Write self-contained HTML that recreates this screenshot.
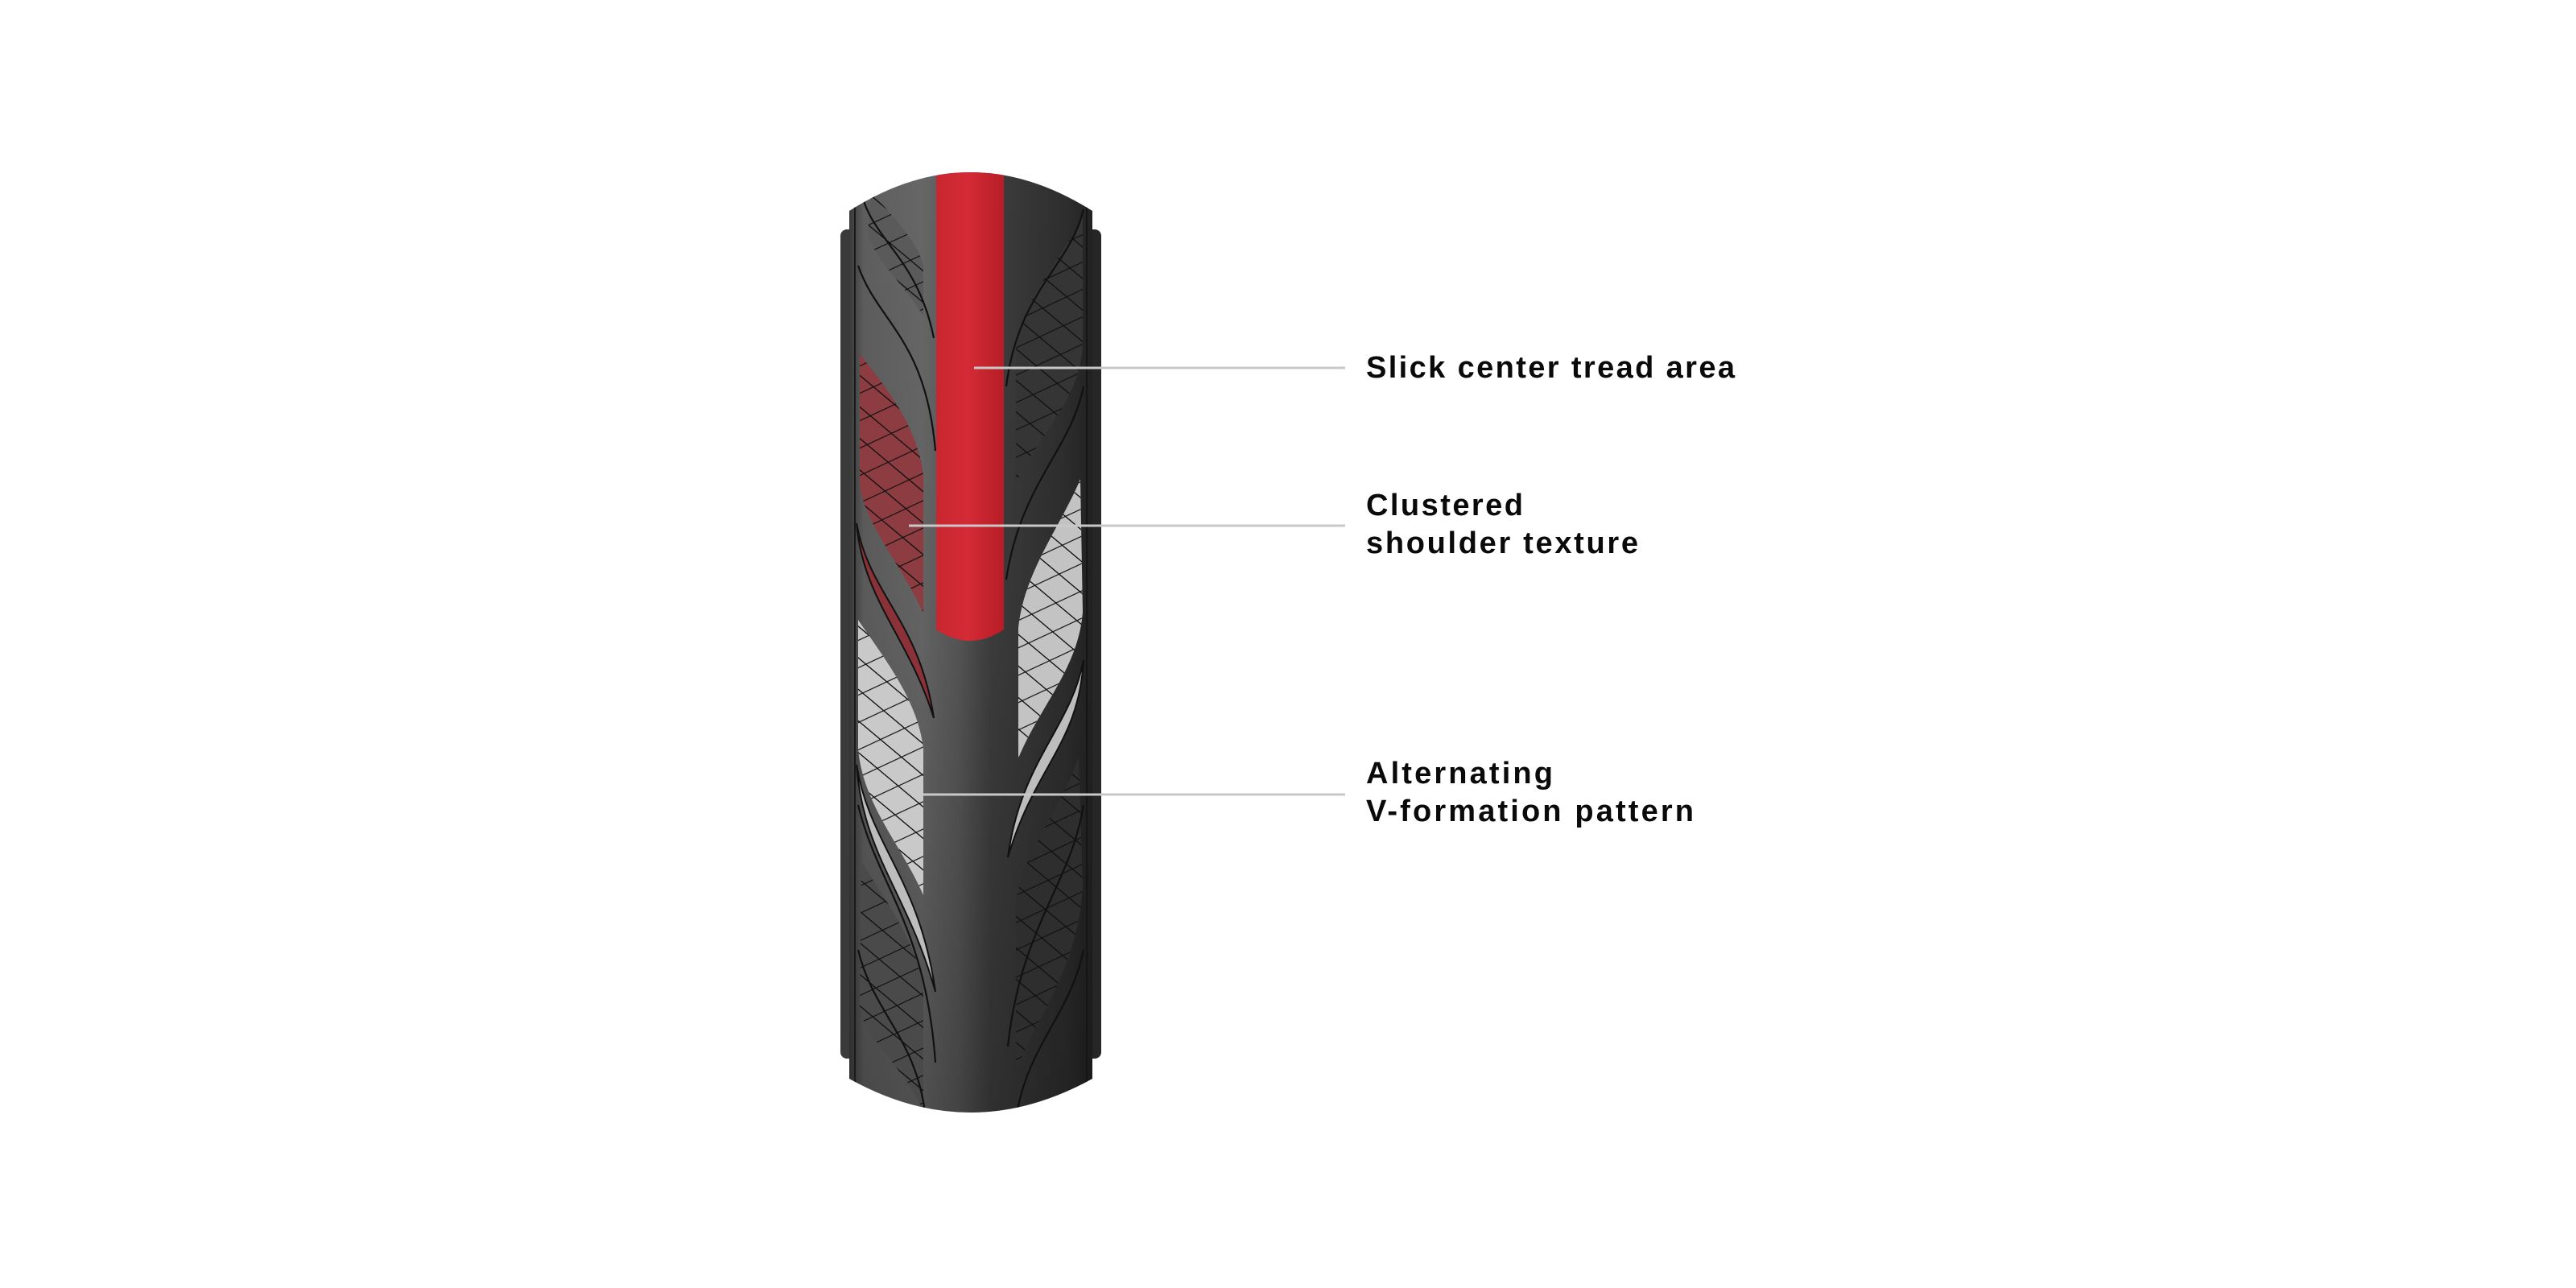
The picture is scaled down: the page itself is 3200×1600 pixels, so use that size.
<!DOCTYPE html>
<html><head><meta charset="utf-8"><style>
html,body{margin:0;padding:0;background:#fff;width:3200px;height:1600px;overflow:hidden}
svg{position:absolute;left:0;top:0}
.t{font-family:"Liberation Sans",sans-serif;font-weight:bold;font-size:38px;fill:#0a0a0a}
</style></head><body>
<svg width="3200" height="1600" viewBox="0 0 3200 1600">
<defs>
<linearGradient id="body" x1="0" x2="1" y1="0" y2="0">
<stop offset="0" stop-color="#3a3a3a"/><stop offset="0.06" stop-color="#5e5e5e"/>
<stop offset="0.3" stop-color="#676767"/><stop offset="0.45" stop-color="#575757"/>
<stop offset="0.58" stop-color="#3e3e3e"/><stop offset="0.9" stop-color="#2d2d2d"/>
<stop offset="1" stop-color="#222"/></linearGradient>
<linearGradient id="shade" x1="0" x2="0" y1="0" y2="1">
<stop offset="0" stop-color="#000" stop-opacity="0"/><stop offset="0.5" stop-color="#000" stop-opacity="0.05"/>
<stop offset="1" stop-color="#000" stop-opacity="0.25"/></linearGradient>
<linearGradient id="red" x1="0" x2="1"><stop offset="0" stop-color="#c92630"/><stop offset="0.45" stop-color="#d42b36"/><stop offset="1" stop-color="#b71d27"/></linearGradient>
<pattern id="grid" width="34" height="30" patternUnits="userSpaceOnUse" patternTransform="rotate(40) skewX(-25)">
<path d="M0,0H34M0,0V30" stroke="#111" stroke-width="2.6" fill="none"/></pattern>
<clipPath id="tc"><path d="M1055,262 Q1205,166 1357,262 L1357,1340 Q1205,1424 1055,1340 Z"/></clipPath>
</defs>
<rect x="1044" y="285" width="20" height="1030" rx="8" fill="#3a3a3a"/>
<rect x="1348" y="285" width="20" height="1030" rx="8" fill="#262626"/>
<path d="M1055,262 Q1205,166 1357,262 L1357,1340 Q1205,1424 1055,1340 Z" fill="url(#body)"/>
<g clip-path="url(#tc)">
<rect x="1040" y="150" width="330" height="1300" fill="url(#shade)"/>
<line x1="1062" y1="250" x2="1062" y2="1350" stroke="#1a1a1a" stroke-width="2"/>
<line x1="1350" y1="250" x2="1350" y2="1350" stroke="#151515" stroke-width="2"/>
<path d="M1082,238 C1110,270 1140,300 1147,330 L1147,392 C1120,350 1085,320 1078,290 Z" fill="#5a5a5a"/>
<path d="M1082,238 C1110,270 1140,300 1147,330 L1147,392 C1120,350 1085,320 1078,290 Z" fill="url(#grid)"/>
<path d="M1068,440 C1100,480 1140,530 1147,590 L1147,762 C1120,700 1072,650 1068,600 Z" fill="#8d3c41"/>
<path d="M1068,440 C1100,480 1140,530 1147,590 L1147,762 C1120,700 1072,650 1068,600 Z" fill="url(#grid)"/>
<path d="M1066,770 C1100,820 1140,870 1147,930 L1147,1112 C1120,1050 1072,1000 1066,930 Z" fill="#c9c9c9"/>
<path d="M1066,770 C1100,820 1140,870 1147,930 L1147,1112 C1120,1050 1072,1000 1066,930 Z" fill="url(#grid)"/>
<path d="M1070,1070 C1100,1120 1140,1170 1147,1230 L1147,1380 C1120,1320 1072,1290 1068,1250 Z" fill="#4a4a4a"/>
<path d="M1070,1070 C1100,1120 1140,1170 1147,1230 L1147,1380 C1120,1320 1072,1290 1068,1250 Z" fill="url(#grid)"/>
<path d="M1345,270 C1320,320 1270,370 1262,430 L1262,600 C1290,540 1340,500 1345,430 Z" fill="#353535"/>
<path d="M1345,270 C1320,320 1270,370 1262,430 L1262,600 C1290,540 1340,500 1345,430 Z" fill="url(#grid)"/>
<path d="M1342,595 C1320,650 1272,710 1265,780 L1265,942 C1290,880 1340,830 1345,760 Z" fill="#c3c3c3"/>
<path d="M1342,595 C1320,650 1272,710 1265,780 L1265,942 C1290,880 1340,830 1345,760 Z" fill="url(#grid)"/>
<path d="M1340,940 C1320,1000 1270,1060 1262,1120 L1262,1330 C1290,1260 1340,1200 1345,1100 Z" fill="#2e2e2e"/>
<path d="M1340,940 C1320,1000 1270,1060 1262,1120 L1262,1330 C1290,1260 1340,1200 1345,1100 Z" fill="url(#grid)"/>
<path d="M1064,650 C1080,740 1142,770 1160,892 C1128,790 1072,745 1064,650 Z" fill="#8a3238" stroke="#111" stroke-width="2"/>
<path d="M1064,950 C1080,1050 1142,1090 1162,1232 C1128,1110 1072,1062 1064,950 Z" fill="#bdbdbd" stroke="#111" stroke-width="2"/>
<path d="M1346,820 C1330,905 1268,945 1252,1065 C1285,952 1340,925 1346,820 Z" fill="#bdbdbd" stroke="#111" stroke-width="2"/>
<g fill="none" stroke="#111" stroke-width="2.2">
<path d="M1066,330 C1090,400 1150,420 1162,560"/>
<path d="M1070,240 C1085,300 1140,320 1160,420"/>
<path d="M1066,1000 C1090,1100 1150,1150 1162,1320"/>
<path d="M1346,260 C1330,330 1265,360 1250,480"/>
<path d="M1346,480 C1330,560 1268,600 1250,720"/>
<path d="M1346,1000 C1330,1100 1268,1150 1252,1300"/>
<path d="M1346,1180 C1330,1260 1275,1300 1262,1390"/>
<path d="M1066,1180 C1085,1260 1140,1290 1150,1390"/>
</g>
<path d="M1163,150 L1247,150 L1247,782 Q1205,810 1163,782 Z" fill="url(#red)"/>
</g>
<g stroke="#c8c8c8" stroke-width="3">
<line x1="1210" y1="457" x2="1671" y2="457"/>
<line x1="1129" y1="653" x2="1671" y2="653"/>
<line x1="1137" y1="987" x2="1671" y2="987"/>
</g>
<text class="t" x="1697" y="469" textLength="458" lengthAdjust="spacing">Slick center tread area</text>
<text class="t" x="1697" y="640" textLength="195" lengthAdjust="spacing">Clustered</text>
<text class="t" x="1697" y="687" textLength="338" lengthAdjust="spacing">shoulder texture</text>
<text class="t" x="1697" y="973" textLength="232" lengthAdjust="spacing">Alternating</text>
<text class="t" x="1697" y="1020" textLength="407" lengthAdjust="spacing">V-formation pattern</text>
</svg>
</body></html>
